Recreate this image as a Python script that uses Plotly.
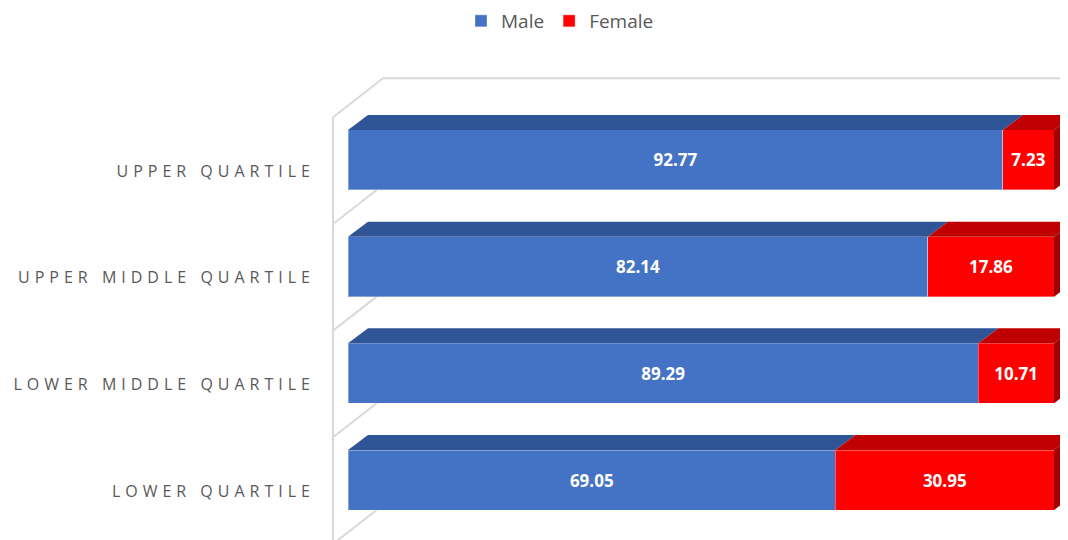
import plotly.graph_objects as go

# ---- data ----
categories = ["LOWER QUARTILE", "LOWER MIDDLE QUARTILE", "UPPER MIDDLE QUARTILE", "UPPER QUARTILE"]
male = [69.05, 89.29, 82.14, 92.77]
female = [30.95, 10.71, 17.86, 7.23]

# ---- style / geometry constants (figure pixel coords; page body adds 8px) ----
OFF = 8
W, H = 1068 - OFF, 540 - OFF
ML = 325 - OFF
PX_PER_X = 7.06
X0_PX = 348 - OFF
PX_PER_Y = 106.67
Y0_PX = 480 - OFF
BAR_W = 0.5625
DX = 20 / PX_PER_X      # 3D depth offset in x units
DY = 15 / PX_PER_Y      # 3D depth offset in y units

BLUE, BLUE_TOP = "#4472C4", "#2F5597"
RED, RED_TOP, RED_SIDE = "#FF0000", "#C00000", "#A00000"
GRID = "#D9D9D9"

x_range = [(ML - X0_PX) / PX_PER_X, (W - X0_PX) / PX_PER_X]
y_range = [(Y0_PX - H) / PX_PER_Y, Y0_PX / PX_PER_Y]

ypos = list(range(len(categories)))

fig = go.Figure()

# front faces
for name, vals, col in [("Male", male, BLUE), ("Female", female, RED)]:
    fig.add_trace(go.Bar(
        name=name, y=ypos, x=vals, orientation="h", width=BAR_W,
        marker=dict(color=col, line=dict(color="rgba(255,255,255,0.35)", width=1)),
        text=vals, texttemplate="<b>%{x:.2f}</b>", textposition="inside",
        insidetextanchor="middle",
        textfont=dict(color="white", size=17, family="Open Sans"),
        hoverinfo="skip",
    ))

# 3D top faces and right side face, computed from the data
for i, (m, f) in enumerate(zip(male, female)):
    yt = ypos[i] + BAR_W / 2
    yb = ypos[i] - BAR_W / 2
    segs = [(0, m, BLUE_TOP), (m, m + f, RED_TOP)]
    for a, b, col in segs:
        fig.add_trace(go.Scatter(
            x=[a, b, b + DX, a + DX, a], y=[yt, yt, yt + DY, yt + DY, yt],
            fill="toself", fillcolor=col, mode="lines", line=dict(width=0, color=col),
            showlegend=False, hoverinfo="skip"))
    end = m + f
    fig.add_trace(go.Scatter(
        x=[end, end + DX, end + DX, end, end], y=[yb, yb + DY, yt + DY, yt, yb],
        fill="toself", fillcolor=RED_SIDE, mode="lines", line=dict(width=0, color=RED_SIDE),
        showlegend=False, hoverinfo="skip"))

# walls (side wall / back wall frame lines)
wall_front_x = (333 - OFF - X0_PX) / PX_PER_X
wall_back_x = (383 - OFF - X0_PX) / PX_PER_X
wall_dy = 39 / PX_PER_Y
sep_offset = 0.4
shapes = []
top_front = ypos[-1] + sep_offset
shapes.append(dict(type="line", xref="x", yref="y", x0=wall_front_x, x1=wall_front_x,
                   y0=y_range[0] - 1, y1=top_front, line=dict(color=GRID, width=2), layer="below"))
shapes.append(dict(type="line", xref="x", yref="y", x0=wall_back_x, x1=x_range[1] + 5,
                   y0=top_front + wall_dy, y1=top_front + wall_dy, line=dict(color=GRID, width=2), layer="below"))
for k in range(-1, len(categories)):
    yf = k + sep_offset
    shapes.append(dict(type="line", xref="x", yref="y", x0=wall_front_x, x1=wall_back_x,
                       y0=yf, y1=yf + wall_dy, line=dict(color=GRID, width=2), layer="below"))

ticktext = ['<span style="letter-spacing:5px">%s</span>' % c for c in categories]

fig.update_layout(
    width=W, height=H, autosize=False,
    barmode="stack",
    margin=dict(l=ML, r=0, t=0, b=0, autoexpand=False),
    paper_bgcolor="white", plot_bgcolor="white",
    font=dict(family="Open Sans", color="#595959"),
    shapes=shapes,
    showlegend=True,
    legend=dict(orientation="h", x=(560 - OFF - ML) / (W - ML), xanchor="center",
                y=1.0 + 6 / H, yanchor="top",
                font=dict(size=19, color="#595959"), traceorder="normal", itemwidth=30),
    xaxis=dict(range=x_range, showgrid=False, zeroline=False, showticklabels=False,
               showline=False, fixedrange=True),
    yaxis=dict(range=y_range, tickvals=ypos, ticktext=ticktext, showgrid=False, zeroline=False,
               showline=False, ticks="", ticklabelstandoff=9, ticklabelshift=11,
               tickfont=dict(size=16, color="#595959", family="Open Sans"), fixedrange=True),
)

fig.write_html("out.html")
